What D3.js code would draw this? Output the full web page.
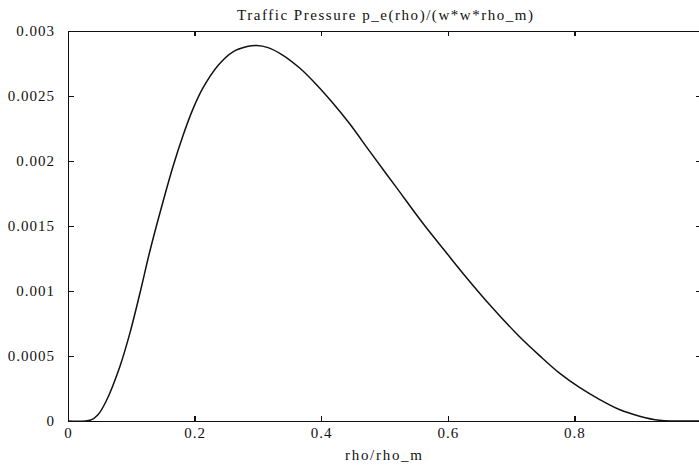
<!DOCTYPE html>
<html>
<head>
<meta charset="utf-8">
<script src="https://cdn.jsdelivr.net/npm/d3@7"></script>
<style>
  body { margin: 0; background: #fff; }
</style>
</head>
<body>
<div id="chart"></div>
<script>
// values: rho/rho_m and p_e(rho)/(w*w*rho_m)
const rho = [0, 0.036, 0.047, 0.060, 0.082, 0.098, 0.114, 0.129, 0.148, 0.166, 0.182, 0.197,
  0.213, 0.237, 0.260, 0.283, 0.298, 0.316, 0.339, 0.366, 0.393, 0.418, 0.445, 0.477, 0.519,
  0.560, 0.598, 0.627, 0.669, 0.713, 0.745, 0.777, 0.808, 0.840, 0.871, 0.903, 0.934, 0.96, 1.0];
const pressure = [0, 0.0000077, 0.000046, 0.000150, 0.000420, 0.000680, 0.000990, 0.001300,
  0.001650, 0.001960, 0.002200, 0.002395, 0.002560, 0.002735, 0.002838, 0.002880, 0.002888,
  0.002872, 0.002815, 0.002715, 0.002585, 0.002448, 0.002286, 0.002072, 0.001795, 0.001525,
  0.001293, 0.001118, 0.000879, 0.000650, 0.000503, 0.000366, 0.000258, 0.000165, 0.000088,
  0.000037, 0.000005, 0, 0];
const xTicks = [0, 0.2, 0.4, 0.6, 0.8];
const yTicks = [0, 0.0005, 0.001, 0.0015, 0.002, 0.0025, 0.003];
const yLabels = ["0", "0.0005", "0.001", "0.0015", "0.002", "0.0025", "0.003"];

const W = 699, H = 465;
const margin = { top: 31, right: -2, bottom: 44, left: 68 };
const width = W - margin.left - margin.right;
const height = H - margin.top - margin.bottom;
const serif = "'Liberation Serif'";

const x = d3.scaleLinear().domain([0, 1]).range([0, width]);
const y = d3.scaleLinear().domain([0, 0.003]).range([height, 0]);

const svg = d3.select("#chart").append("svg")
  .attr("width", W)
  .attr("height", H);

const g = svg.append("g")
  .attr("transform", "translate(" + margin.left + "," + margin.top + ")");

// frame with inward ticks on all four sides
const axisStyle = sel => {
  sel.attr("font-family", serif).attr("font-size", 15);
  sel.selectAll("path.domain").attr("stroke", "#111").attr("stroke-width", 1.5);
  sel.selectAll(".tick line").attr("stroke", "#111").attr("stroke-width", 1.3);
  sel.selectAll("text").attr("fill", "#111").attr("letter-spacing", "1px");
};

g.append("g")
  .attr("transform", "translate(0," + height + ")")
  .call(d3.axisBottom(x).tickValues(xTicks).tickFormat(d3.format("")).tickSizeInner(-5).tickSizeOuter(0).tickPadding(6))
  .call(axisStyle);

g.append("g")
  .call(d3.axisTop(x).tickValues(xTicks).tickFormat("").tickSizeInner(-5).tickSizeOuter(0))
  .call(axisStyle);

g.append("g")
  .call(d3.axisLeft(y).tickValues(yTicks).tickFormat((d, i) => yLabels[i]).tickSizeInner(-6).tickSizeOuter(0).tickPadding(13))
  .call(axisStyle);

g.append("g")
  .attr("transform", "translate(" + width + ",0)")
  .call(d3.axisRight(y).tickValues(yTicks).tickFormat("").tickSizeInner(-5).tickSizeOuter(0))
  .call(axisStyle);

svg.selectAll(".domain, .tick line").attr("shape-rendering", "crispEdges");

// the curve
const data = rho.map((r, i) => ({ r: r, p: pressure[i] }));
const line = d3.line()
  .x(d => x(d.r))
  .y(d => y(d.p))
  .curve(d3.curveCatmullRom.alpha(0.5));

g.append("path")
  .datum(data)
  .attr("fill", "none")
  .attr("stroke", "#111")
  .attr("stroke-width", 1.5)
  .attr("d", line);

// title and x label
svg.append("text")
  .attr("x", 237)
  .attr("y", 20)
  .attr("font-family", serif)
  .attr("font-size", 15)
  .attr("textLength", 296)
  .attr("lengthAdjust", "spacing")
  .attr("fill", "#111")
  .text("Traffic Pressure p_e(rho)/(w*w*rho_m)");

svg.append("text")
  .attr("x", 345)
  .attr("y", 460)
  .attr("font-family", serif)
  .attr("font-size", 15)
  .attr("textLength", 77)
  .attr("lengthAdjust", "spacing")
  .attr("fill", "#111")
  .text("rho/rho_m");
</script>
</body>
</html>
